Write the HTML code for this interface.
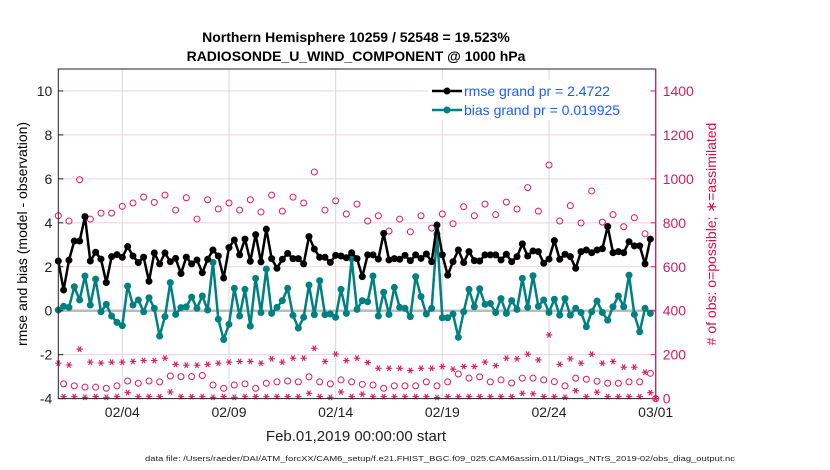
<!DOCTYPE html>
<html><head><meta charset="utf-8"><style>
body{margin:0;background:#fff;}
svg{display:block;font-family:"Liberation Sans",sans-serif;}
</style></head><body>
<svg id="chart" width="830" height="470" xmlns="http://www.w3.org/2000/svg">
<rect width="830" height="470" fill="#fff"/>
<text x="356" y="42" text-anchor="middle" font-size="14" font-weight="bold">Northern Hemisphere 10259 / 52548 = 19.523%</text>
<text x="356" y="61" text-anchor="middle" font-size="14" font-weight="bold">RADIOSONDE_U_WIND_COMPONENT @ 1000 hPa</text>
<g id="grid"></g>
<g id="marks"></g>
<g id="axes"></g>
<text transform="translate(27,234) rotate(-90)" text-anchor="middle" font-size="14">rmse and bias (model - observation)</text>
<text transform="translate(716,234) rotate(-90)" text-anchor="middle" font-size="14" fill="#d0104c"># of obs: o=possible; ∗=assimilated</text>
<text x="356" y="441" text-anchor="middle" font-size="15" fill="#222">Feb.01,2019 00:00:00 start</text>
<text x="145" y="461" font-size="7.5" fill="#222" textLength="590" lengthAdjust="spacingAndGlyphs">data file: /Users/raeder/DAI/ATM_forcXX/CAM6_setup/f.e21.FHIST_BGC.f09_025.CAM6assim.011/Diags_NTrS_2019-02/obs_diag_output.nc</text>
<g id="legend">
<rect x="428" y="80" width="222" height="40" fill="#fff"/>
<line x1="432" y1="91" x2="462" y2="91" stroke="#000" stroke-width="2.5"/>
<circle cx="447" cy="91" r="3.5" fill="#000"/>
<text x="464" y="96" font-size="14" fill="#1a5cff">rmse grand pr = 2.4722</text>
<line x1="432" y1="110" x2="462" y2="110" stroke="#008080" stroke-width="2.5"/>
<circle cx="447" cy="110" r="3.5" fill="#008080"/>
<text x="464" y="115" font-size="14" fill="#1a5cff">bias grand pr = 0.019925</text>
</g>
</svg>
<script>
const rmse=[2.26,0.94,2.3,3.17,3.17,4.28,2.26,2.66,2.35,1.28,2.46,2.55,2.43,2.92,2.49,2.19,2.44,1.34,2.63,2.13,2.63,2.23,2.38,1.69,2.44,2.13,2.31,1.73,2.34,2.76,2.49,1.49,2.87,3.22,2.54,3.26,2.25,3.46,2.22,3.71,2.37,1.93,2.34,2.61,2.37,2.37,2.13,3.37,2.81,2.43,2.43,2.2,2.52,2.49,2.41,2.64,2.37,1.55,2.54,2.54,2.35,3.52,2.31,2.37,2.34,2.52,2.28,2.54,2.38,2.58,2.23,3.9,2.54,1.62,2.23,2.76,2.19,2.69,2.28,2.26,2.54,2.54,2.54,2.31,2.57,2.23,2.46,3.04,2.49,2.72,2.69,2.16,2.35,3.19,2.34,2.57,2.46,1.93,2.69,2.76,2.64,2.76,2.82,3.83,2.64,2.69,2.64,3.14,2.95,2.95,2.13,3.26];
const bias=[0.03,0.2,0.15,1.09,0.49,1.58,0.26,1.44,-0.05,0.29,-0.24,-0.53,-0.68,1.12,0.26,0.49,-0.05,0.59,0.11,-1.15,-0.27,1.28,-0.17,0.14,0.18,0.62,0.11,0.67,0.03,2.2,-0.39,-1.31,-0.62,1.02,-0.24,0.97,-0.7,1.47,-0.08,1.9,-0.12,0.15,0.46,1.02,-0.21,-0.79,-0.3,1.17,-0.18,1.37,-0.18,-0.15,-0.3,0.97,-0.12,2.37,0.06,0.46,0.41,1.58,-0.24,0.84,-0.17,1.06,0.15,0.11,-0.27,1.55,0.64,-0.15,0.11,3.49,-0.32,-0.32,-0.15,-1.21,-0.05,0.97,0.18,1.0,0.29,0.33,-0.08,0.55,-0.12,0.46,0.06,1.47,0.15,1.59,0.2,0.49,-0.08,0.52,-0.2,0.55,-0.2,0.11,-0.08,-0.73,-0.05,0.44,-0.08,-0.43,0.18,0.67,0.18,1.62,-0.17,-0.96,0.11,-0.12];
const possible=[832,67,808,58,996,52,817,52,844,47,844,58,875,80,890,70,917,80,893,76,926,103,858,100,914,100,817,105,905,62,863,47,890,62,858,67,905,47,849,70,926,76,853,80,917,76,890,99,1031,76,858,67,900,85,840,76,885,65,808,62,832,47,762,58,817,58,759,58,832,76,776,58,840,76,796,112,873,93,832,99,885,76,837,85,894,71,863,93,960,93,853,85,1063,77,808,58,878,93,799,88,945,79,803,70,837,70,782,76,823,76,750,115,0];
const assimilated=[161,9,153,9,225,6,166,9,162,6,166,9,166,27,169,9,173,9,173,9,184,30,156,9,152,9,152,9,156,6,161,9,166,6,169,9,169,9,161,9,181,9,166,9,184,9,184,24,229,9,169,6,203,30,173,9,184,20,164,9,138,9,138,9,138,9,128,9,138,9,138,5,146,9,134,9,146,9,146,9,166,9,150,9,184,9,181,24,202,22,176,9,290,9,156,6,181,36,161,9,202,29,161,9,169,9,143,9,143,9,120,27,0];
const leftTicks=[-4,-2,0,2,4,6,8,10];
const rightTicks=[0,200,400,600,800,1000,1200,1400];
const dateLabels=["02/04","02/09","02/14","02/19","02/24","03/01"];
const dateDays=[3,8,13,18,23,28];

const NS="http://www.w3.org/2000/svg";
const X0=58.3,X1=655.7,Y0=69,Y1=398.6;
const xDay=d=>X0+(X1-X0)*d/28;
const xIdx=i=>xDay(i/4);
const yL=v=>Y1-(v+4)/15*(Y1-Y0);
const yR=v=>Y1-v/1500*(Y1-Y0);
function mk(tag,attrs,parent){const e=document.createElementNS(NS,tag);for(const k in attrs)e.setAttribute(k,attrs[k]);parent.appendChild(e);return e;}
const grid=document.getElementById('grid'),marks=document.getElementById('marks'),axes=document.getElementById('axes');
rightTicks.forEach(v=>{if(v>0){const l=mk('line',{x1:X0,x2:X1,y1:yR(v),y2:yR(v),stroke:'#f0d0dc','stroke-width':1},grid);

}});
dateDays.forEach(d=>{const l=mk('line',{x1:xDay(d),x2:xDay(d),y1:Y0,y2:Y1,stroke:'#d8d8d8','stroke-width':1},grid);

});
const zl=mk('line',{x1:X0,x2:X1,y1:yL(0),y2:yL(0),stroke:'#bbb','stroke-width':2.5},grid);


const pink='#d81b5a';
function star(cx,cy,name){const g=mk('g',{stroke:pink,'stroke-width':1.1},marks);


[0,60,120].forEach(a=>{const r=a*Math.PI/180,dx=3.2*Math.cos(r),dy=3.2*Math.sin(r);mk('line',{x1:cx-dx,y1:cy-dy,x2:cx+dx,y2:cy+dy},g);});}
possible.forEach((v,i)=>{const c=mk('circle',{cx:xIdx(i),cy:yR(v),r:3,fill:'none',stroke:pink,'stroke-width':1},marks);

});
assimilated.forEach((v,i)=>star(xIdx(i),yR(v),'assimilated-obs-point'));
function series(arr,color,name){const p=mk('polyline',{points:arr.map((v,i)=>xIdx(i)+','+yL(v)).join(' '),fill:'none',stroke:color,'stroke-width':2.5,'stroke-linejoin':'round'},marks);


arr.forEach((v,i)=>{const c=mk('circle',{cx:xIdx(i),cy:yL(v),r:3.5,fill:color},marks);

});}
series(bias,'#008080','bias');
series(rmse,'#000','rmse');
const fr=mk('rect',{x:X0,y:Y0,width:X1-X0,height:Y1-Y0,fill:'none',stroke:'#222','stroke-width':1},axes);


const ra=mk('line',{x1:X1,x2:X1,y1:Y0,y2:Y1,stroke:pink,'stroke-width':1},axes);


leftTicks.forEach(v=>{mk('line',{x1:X0,x2:X0+5,y1:yL(v),y2:yL(v),stroke:'#222'},axes);
const t=mk('text',{x:X0-6,y:yL(v)+5,'text-anchor':'end','font-size':14,fill:'#222'},axes);t.textContent=v;

});
rightTicks.forEach(v=>{mk('line',{x1:X1-5,x2:X1,y1:yR(v),y2:yR(v),stroke:pink},axes);
const t=mk('text',{x:X1+7,y:yR(v)+5,'font-size':14,fill:pink},axes);t.textContent=v;

});
dateLabels.forEach((s,k)=>{const t=mk('text',{x:xDay(dateDays[k]),y:417,'text-anchor':'middle','font-size':14,fill:'#222'},axes);t.textContent=s;

});
</script>
</body></html>
